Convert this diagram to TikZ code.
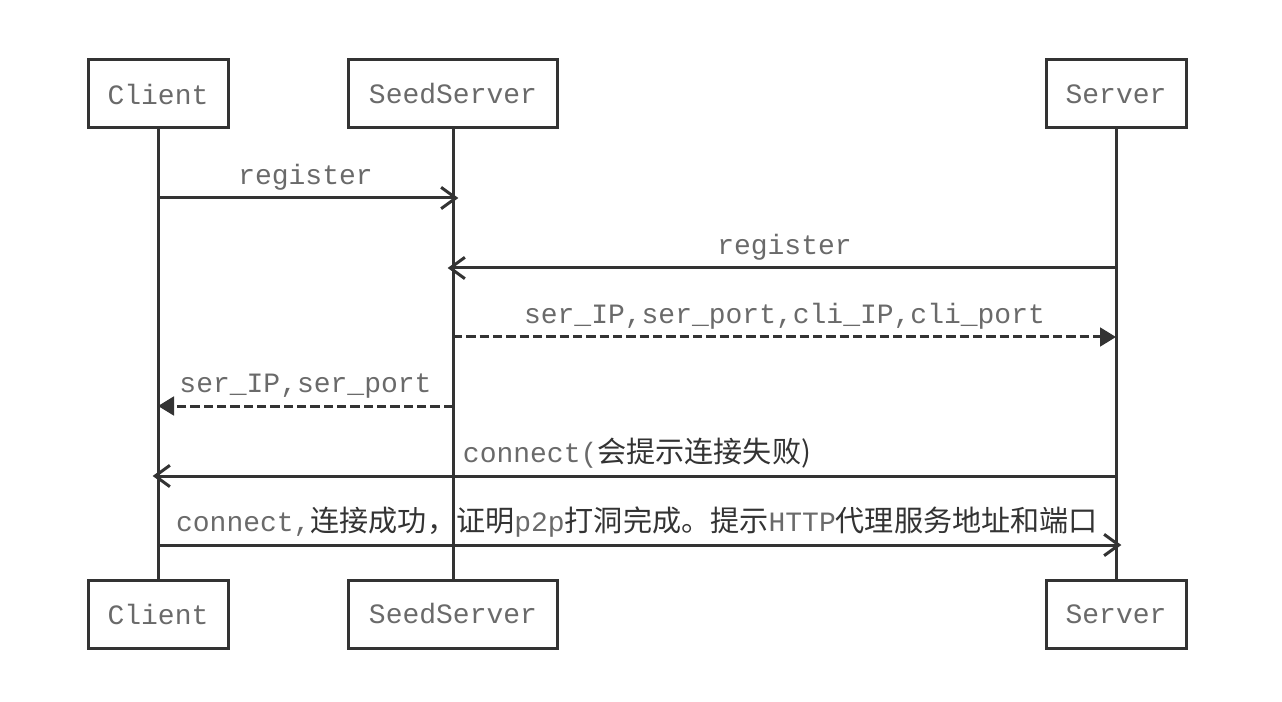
\documentclass[tikz,border=0pt]{standalone}
\usepackage{fontspec}
\setmonofont{Liberation Mono}
\newfontfamily\cjk[Scale=1.04]{Noto Sans CJK SC}
\usetikzlibrary{arrows.meta}
\definecolor{linegray}{HTML}{333333}
\definecolor{textgray}{HTML}{6A6A6A}
\newcommand{\zh}[1]{{\cjk\color{linegray}#1}}

\begin{document}
\begin{tikzpicture}
          [x=0.75pt,y=-0.75pt,
          actor/.style={rectangle,draw=linegray,line width=2.25pt,minimum height=51pt,font=\ttfamily\fontsize{21}{25}\selectfont,text=textgray},
          life/.style={draw=linegray,line width=2.25pt},
          call/.style={draw=linegray,line width=2.25pt,-{Straight Barb[length=11pt,width=16pt]},shorten >=-4pt},
          reply/.style={draw=linegray,line width=2.25pt,dash pattern=on 7pt off 3pt,-{Triangle[length=12pt,width=14pt]}},
          msg/.style={above=4.5pt,midway,inner sep=0pt,font=\ttfamily\fontsize{21}{25}\selectfont,text=textgray}]
          \useasboundingbox (0,0) rectangle (1282,702);
          % participants, top and bottom
          \node[actor,minimum width=105pt]    (cliTop)  at (158,94)  {Client};
          \node[actor,minimum width=156.75pt] (seedTop) at (453,94)  {SeedServer};
          \node[actor,minimum width=105pt]    (serTop)  at (1116,94) {Server};
          \node[actor,minimum width=105pt]    (cliBot)  at (158,614)  {Client};
          \node[actor,minimum width=156.75pt] (seedBot) at (453,614)  {SeedServer};
          \node[actor,minimum width=105pt]    (serBot)  at (1116,614) {Server};
          \draw[life] (cliTop) -- (cliBot);
          \draw[life] (seedTop) -- (seedBot);
          \draw[life] (serTop) -- (serBot);
          % message rows
          \coordinate (r1) at (0,198);
          \coordinate (r2) at (0,268);
          \coordinate (r3) at (0,337);
          \coordinate (r4) at (0,406);
          \coordinate (r5) at (0,476);
          \coordinate (r6) at (0,545);
          \draw[call]  (cliTop |- r1) -- (seedTop |- r1) node[msg] {register};
          \draw[call]  (serTop |- r2) -- (seedTop |- r2) node[msg] {register};
          \draw[reply] (seedTop |- r3) -- (serTop |- r3) node[msg] {ser\_IP,ser\_port,cli\_IP,cli\_port};
          \draw[reply] (seedTop |- r4) -- (cliTop |- r4) node[msg] {ser\_IP,ser\_port};
          \draw[call]  (serTop |- r5) -- (cliTop |- r5) node[msg] {connect(\zh{会提示连接失败)}};
          \draw[call]  (cliTop |- r6) -- (serTop |- r6)
          node[msg] {connect,\zh{连接成功，证明}p2p\zh{打洞完成。提示}HTTP\zh{代理服务地址和端口}};
        \end{tikzpicture}
\end{document}
